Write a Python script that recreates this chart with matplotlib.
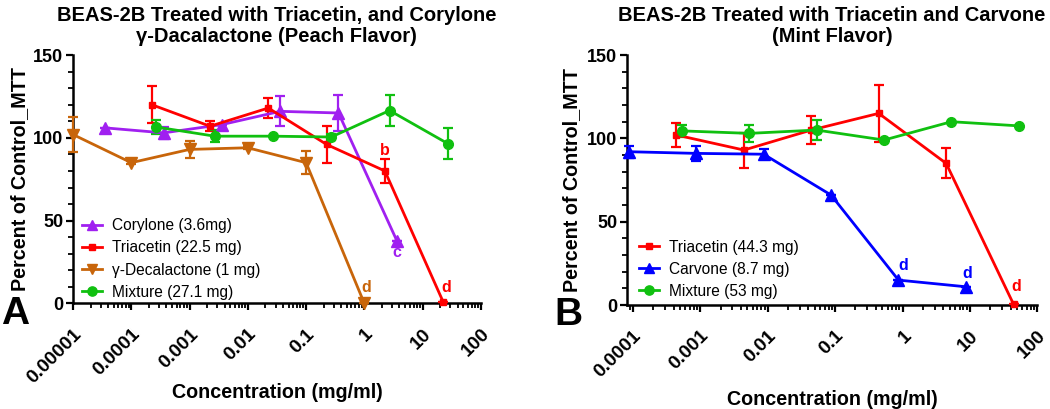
import matplotlib
matplotlib.use("Agg")
import matplotlib.pyplot as plt
from matplotlib.lines import Line2D
from matplotlib.ticker import FixedLocator, MultipleLocator, LogLocator, NullFormatter

plt.rcParams['font.family'] = ['Liberation Sans', 'DejaVu Sans']

# ---------------- Panel A data ----------------
a_cory_x = [3.6e-5, 3.6e-4, 3.6e-3, 3.6e-2, 0.36, 3.6]
a_cory_y = [106, 103, 108, 116, 115, 38]
a_cory_e = [0, 3.5, 0, 9, 11, 0]

a_tri_x = [2.25e-4, 2.25e-3, 2.25e-2, 0.225, 2.25, 22.5]
a_tri_y = [120, 107, 118, 96, 80, 1]
a_tri_e = [11, 3, 6, 11, 7, 0]

a_gam_x = [1e-5, 1e-4, 1e-3, 1e-2, 0.1, 1]
a_gam_y = [102, 85, 93, 94, 85, 0]
a_gam_e = [10.5, 1, 5, 1, 7, 0]

a_mix_x = [2.71e-4, 2.71e-3, 2.71e-2, 0.271, 2.71, 27.1]
a_mix_y = [106.5, 101, 101, 100.5, 116.5, 96.5]
a_mix_e = [4, 3.5, 0, 2, 9.5, 9.5]

a_labels = ["Corylone (3.6mg)", "Triacetin (22.5 mg)", "γ-Decalactone (1 mg)", "Mixture (27.1 mg)"]
a_ticks = [1e-5, 1e-4, 1e-3, 1e-2, 0.1, 1, 10, 100]
a_ticklabels = ["0.00001", "0.0001", "0.001", "0.01", "0.1", "1", "10", "100"]

# ---------------- Panel B data ----------------
b_tri_x = [4.43e-4, 4.43e-3, 0.0443, 0.443, 4.43, 44.3]
b_tri_y = [102, 93, 105, 115, 85, 0.5]
b_tri_e = [7, 10.5, 8.5, 17, 9, 0]

b_carv_x = [8.7e-5, 8.7e-4, 8.7e-3, 0.087, 0.87, 8.7]
b_carv_y = [92, 91, 90.5, 66, 15, 11]
b_carv_e = [3.5, 4.5, 3, 0, 0, 0]

b_mix_x = [5.3e-4, 5.3e-3, 0.053, 0.53, 5.3, 53]
b_mix_y = [104.5, 103, 105, 99, 110, 107.5]
b_mix_e = [3.5, 5, 6, 0, 0, 0]

b_labels = ["Triacetin (44.3 mg)", "Carvone (8.7 mg)", "Mixture (53 mg)"]
b_ticks = [1e-4, 1e-3, 1e-2, 0.1, 1, 10, 100]
b_ticklabels = ["0.0001", "0.001", "0.01", "0.1", "1", "10", "100"]

PURPLE = "#A020F0"
RED = "#FF0000"
BROWN = "#C8650A"
GREEN = "#10C010"
BLUE = "#0000FF"

fig = plt.figure(figsize=(10.5, 4.09), dpi=100)
axA = fig.add_axes([0.0695, 0.258, 0.3885, 0.6075])
axB = fig.add_axes([0.597, 0.254, 0.391, 0.6115])


def series(ax, x, y, e, color, marker, ms):
    ax.errorbar(x, y, yerr=e, color=color, marker=marker, markersize=ms, lw=2.0,
                elinewidth=1.6, capsize=3.5, capthick=1.6, clip_on=False, zorder=3)
    return Line2D([], [], color=color, marker=marker, markersize=ms * 0.95, lw=2.0)


def style(ax, xmin, ticks, ticklabels, ylabel_x, xlabel_y):
    ax.set_xscale('log')
    ax.set_xlim(xmin, 100)
    ax.set_ylim(0, 150)
    for s in ['top', 'right']:
        ax.spines[s].set_visible(False)
    for s in ['left', 'bottom']:
        ax.spines[s].set_linewidth(1.8)
    ax.xaxis.set_major_locator(FixedLocator(ticks))
    ax.set_xticklabels(ticklabels, rotation=45, ha='right', rotation_mode='anchor',
                       fontsize=13.8, fontweight='bold')
    ax.xaxis.set_minor_locator(LogLocator(base=10, subs=range(2, 10), numticks=20))
    ax.xaxis.set_minor_formatter(NullFormatter())
    ax.yaxis.set_major_locator(FixedLocator([0, 50, 100, 150]))
    ax.yaxis.set_minor_locator(MultipleLocator(10))
    ax.set_yticklabels(["0", "50", "100", "150"], fontsize=13, fontweight='bold')
    ax.tick_params(which='major', length=5, width=1.6, direction='out', pad=2)
    ax.tick_params(axis='x', which='major', pad=11)
    ax.tick_params(which='minor', length=3.5, width=1.3, direction='out')
    ax.set_ylabel("Percent of Control_MTT", fontsize=14.2, fontweight='bold')
    ax.set_xlabel("Concentration (mg/ml)", fontsize=14.2, fontweight='bold')
    ax.yaxis.set_label_coords(ylabel_x, 0.5)
    ax.xaxis.set_label_coords(0.5, xlabel_y)


def legend(ax, handles, labels, anchor):
    ax.legend(handles, labels, loc='lower left', bbox_to_anchor=anchor, frameon=False,
              fontsize=11.2, handlelength=1.3, handletextpad=0.6, labelspacing=0.46,
              borderpad=0, borderaxespad=0)


# Panel A
hA = [series(axA, a_cory_x, a_cory_y, a_cory_e, PURPLE, '^', 8),
      series(axA, a_tri_x, a_tri_y, a_tri_e, RED, 's', 5),
      series(axA, a_gam_x, a_gam_y, a_gam_e, BROWN, 'v', 8),
      series(axA, a_mix_x, a_mix_y, a_mix_e, GREEN, 'o', 7)]
style(axA, 1e-5, a_ticks, a_ticklabels, -0.108, -0.32)
legend(axA, hA, a_labels, (0.022, 0.015))
for txt, x, y, c in [("b", 2.25, 92.5, RED), ("c", 3.6, 30.5, PURPLE),
                     ("d", 1.07, 9.5, BROWN), ("d", 25, 9.5, RED)]:
    axA.text(x, y, txt, color=c, fontsize=11.5, fontweight='bold', ha='center', va='center')

# Panel B
hB = [series(axB, b_tri_x, b_tri_y, b_tri_e, RED, 's', 5),
      series(axB, b_carv_x, b_carv_y, b_carv_e, BLUE, '^', 8),
      series(axB, b_mix_x, b_mix_y, b_mix_e, GREEN, 'o', 7)]
style(axB, 10 ** -4.09, b_ticks, b_ticklabels, -0.111, -0.34)
legend(axB, hB, b_labels, (0.03, 0.025))
for txt, x, y, c in [("d", 1.04, 23.5, BLUE), ("d", 9.2, 18.7, BLUE), ("d", 48, 11, RED)]:
    axB.text(x, y, txt, color=c, fontsize=11.5, fontweight='bold', ha='center', va='center')

# Titles
fig.text(0.2637, 1 - 26 / 409, "BEAS-2B Treated with Triacetin, and Corylone\nγ-Dacalactone (Peach Flavor)",
         ha='center', va='center', fontsize=14.5, fontweight='bold', linespacing=1.15)
fig.text(0.7925, 1 - 26 / 409, "BEAS-2B Treated with Triacetin and Carvone\n(Mint Flavor)",
         ha='center', va='center', fontsize=14.5, fontweight='bold', linespacing=1.15)

# Panel letters
fig.text(0.014, 1 - 314 / 409, "A", ha='center', va='center', fontsize=28, fontweight='bold')
fig.text(0.541, 1 - 315 / 409, "B", ha='center', va='center', fontsize=28, fontweight='bold')

fig.savefig("out.png", dpi=100)
